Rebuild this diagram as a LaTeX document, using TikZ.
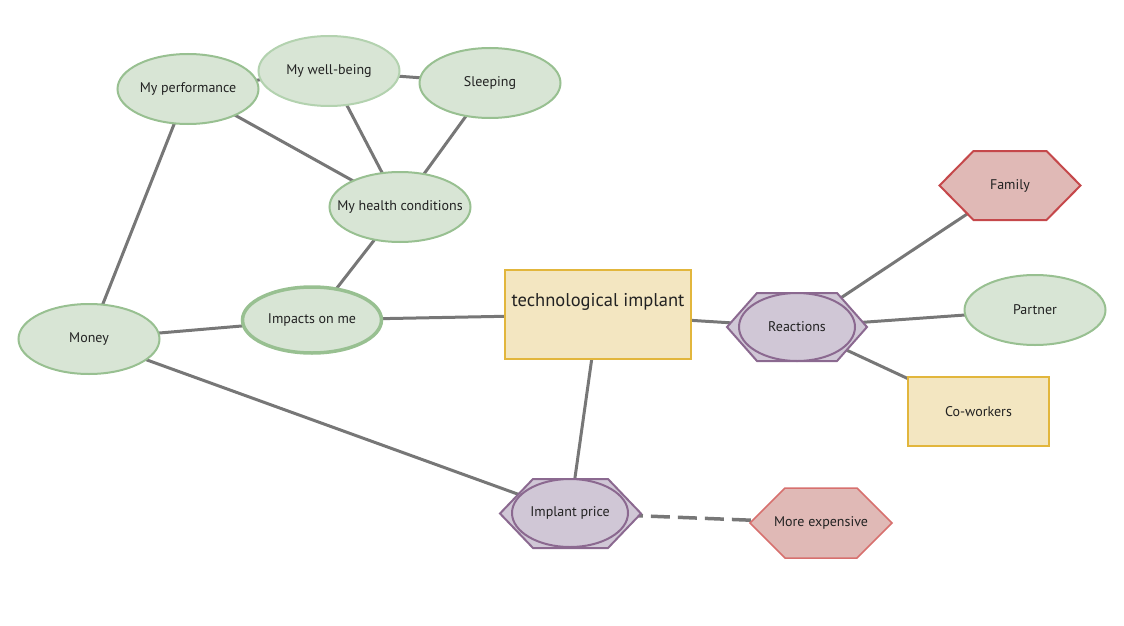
\documentclass[tikz,border=0pt]{standalone}
\usepackage{fontspec}
\setmainfont{PT Sans}
\usetikzlibrary{shapes.geometric,calc}
\pgfdeclarelayer{edges}
\pgfdeclarelayer{hexes}
\pgfsetlayers{edges,hexes,main}
\definecolor{gfill}{HTML}{D8E5D5}
\definecolor{gstroke}{HTML}{98C091}
\definecolor{gstroke2}{HTML}{B3D2AF}
\definecolor{yfill}{HTML}{F3E6C1}
\definecolor{ystroke}{HTML}{E2B63C}
\definecolor{rfill}{HTML}{E0B9B6}
\definecolor{rstroke}{HTML}{C5484B}
\definecolor{rstroke2}{HTML}{D7706E}
\definecolor{pfill}{HTML}{D0C7D6}
\definecolor{pstroke}{HTML}{8B6990}
\definecolor{edgec}{HTML}{777777}
\definecolor{txtc}{HTML}{222222}
\newcommand\hexpath[3]{\draw[#3] (#1.west) -- ($(#1.north west)+(#2,0)$) -- ($(#1.north east)+(-#2,0)$) -- (#1.east) -- ($(#1.south east)+(-#2,0)$) -- ($(#1.south west)+(#2,0)$) -- cycle;}
\newcommand\zbox[1]{\makebox[0pt]{#1}}
\begin{document}
\begin{tikzpicture}[x=1pt,y=-1pt,
  txt/.style={font=\fontsize{14}{16}\selectfont, text=txtc},
  gell/.style={ellipse, draw=gstroke, fill=gfill, line width=2pt, minimum width=141pt, minimum height=70pt, inner sep=0pt, txt},
  pell/.style={ellipse, draw=pstroke, fill=pfill, line width=2pt, minimum width=116pt, minimum height=68pt, inner sep=0pt, txt},
  yrect/.style={rectangle, draw=ystroke, fill=yfill, line width=2pt, inner sep=0pt, txt},
  hexbase/.style={rectangle, minimum width=141pt, minimum height=69pt, inner sep=0pt, outer sep=0pt, txt},
  edge/.style={draw=edgec, line width=3pt}]
\useasboundingbox (0,0) rectangle (1124,626);
% nodes
\node[gell] (perf) at (188,89) {\zbox{My performance}};
\node[gell, draw=gstroke2] (well) at (329,71) {\zbox{My well-being}};
\node[gell] (sleep) at (490,83) {Sleeping};
\node[gell] (health) at (400,207) {\zbox{My health conditions}};
\node[gell, line width=3.5pt, minimum width=139pt, minimum height=66pt] (impacts) at (312,320) {\zbox{Impacts on me}};
\node[gell] (money) at (89,339) {Money};
\node[yrect, minimum width=186pt, minimum height=89pt,
  label={[anchor=center, yshift=-33pt, font=\fontsize{18.5}{22}\selectfont, text=txtc]north:technological implant}] (tech) at (598,314.5) {};
\node[hexbase, minimum width=140pt, minimum height=68pt] (reacth) at (797,327) {};
\node[pell] (react) at (797,327) {Reactions};
\node[hexbase] (famh) at (1010,185.5) {Family};
\node[gell] (partner) at (1035,310) {Partner};
\node[yrect, minimum width=141pt, minimum height=69pt] (cow) at (978.5,411.5) {Co-workers};
\node[hexbase] (priceh) at (570.5,513.5) {};
\node[pell] (price) at (570,513) {\zbox{Implant price}};
\node[hexbase, minimum width=142pt, minimum height=70pt] (moreh) at (821,523) {More expensive};
% hexagons
\begin{pgfonlayer}{hexes}
\hexpath{famh}{34}{draw=rstroke, fill=rfill, line width=2pt}
\hexpath{moreh}{35}{draw=rstroke2, fill=rfill, line width=1.5pt}
\hexpath{reacth}{30}{draw=pstroke, fill=pfill, line width=2pt}
\hexpath{priceh}{33}{draw=pstroke, fill=pfill, line width=2pt}
\end{pgfonlayer}
% edges
\begin{pgfonlayer}{edges}
\draw[edge] (perf.center) -- (well.center);
\draw[edge] (well.center) -- (sleep.center);
\draw[edge] (perf.center) -- (health.center);
\draw[edge] (well.center) -- (health.center);
\draw[edge] (sleep.center) -- (health.center);
\draw[edge] (perf.center) -- (money.center);
\draw[edge] (health.center) -- (impacts.center);
\draw[edge] (impacts.center) -- (tech.center);
\draw[edge] (money.center) -- (impacts.center);
\draw[edge] (money.center) -- (price.center);
\draw[edge] (tech.center) -- (price.center);
\draw[edge] (tech.center) -- (react.center);
\draw[edge] (react.center) -- (famh.center);
\draw[edge] (react.center) -- (partner.center);
\draw[edge] (react.center) -- (cow.center);
\draw[edge, line width=3.5pt, dash pattern=on 19pt off 8pt, dash phase=0pt] (price.center) -- (moreh.center);
\end{pgfonlayer}
\end{tikzpicture}
\end{document}
